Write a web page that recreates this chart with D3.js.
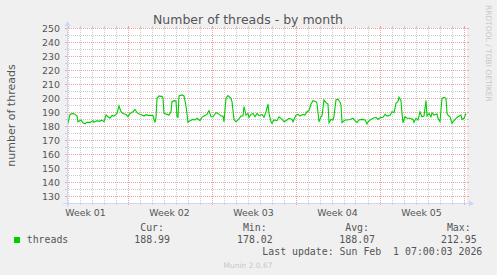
<!DOCTYPE html>
<html>
<head>
<meta charset="utf-8">
<script src="https://cdn.jsdelivr.net/npm/d3@7/dist/d3.min.js"></script>
<style>
	body { margin: 0; background: #f0f0f0; }
	svg text { font-family: "DejaVu Sans", sans-serif; fill: #555; }
	svg text.mono { font-family: "DejaVu Sans Mono", monospace; white-space: pre; }
</style>
</head>
<body>
<div id="chart"></div>
<script>
// hours since the start of the graph (Dec 29 2025 23:00), one reading per entry
var hours = [
	0, 2, 6, 12, 16, 20, 22, 28, 32, 36,
	40, 46, 52, 54, 60, 64, 70, 74, 78, 82,
	86, 90, 94, 100, 104, 108, 112, 118, 122, 126,
	132, 136, 140, 144, 150, 154, 158, 162, 168, 172,
	176, 178, 180, 184, 190, 192, 194, 200, 204, 208,
	210, 214, 218, 220, 222, 224, 230, 234, 238, 242,
	246, 252, 256, 260, 266, 270, 274, 280, 284, 288,
	292, 298, 302, 308, 312, 314, 318, 322, 328, 330,
	334, 338, 342, 348, 352, 354, 358, 362, 364, 368,
	372, 376, 380, 384, 390, 394, 398, 402, 404, 408,
	410, 414, 420, 424, 430, 434, 440, 444, 450, 452,
	458, 462, 466, 472, 476, 480, 484, 488, 492, 498,
	500, 504, 508, 510, 514, 518, 522, 524, 528, 532,
	534, 538, 542, 546, 548, 550, 556, 560, 566, 572,
	576, 580, 584, 590, 596, 600, 602, 608, 612, 618,
	622, 626, 632, 636, 640, 646, 650, 654, 658, 662,
	664, 668, 670, 672, 676, 680, 686, 692, 694, 698,
	702, 706, 710, 714, 718, 720, 724, 728, 730, 734,
	740, 742, 746, 750, 754, 758, 760, 762, 766, 770,
	772, 778, 782, 788, 790, 794, 798
];
var threads = [
	181.9, 182.3, 188.3, 189, 188.3, 187.1, 183, 184.3, 182.3, 181.6,
	182.6, 182.6, 183.8, 182.6, 183.8, 183.3, 184.2, 183, 187.8, 186.6,
	185.5, 187.6, 187.1, 189, 194.3, 190.2, 189, 188.3, 186.6, 189,
	190.2, 191.9, 189.5, 188.6, 187.8, 187.1, 188.1, 187.6, 187.6, 187.4,
	182.5, 186.2, 199.8, 201.5, 201, 199.8, 189, 188.3, 187.8, 190.2,
	197.4, 198.1, 197.9, 186.6, 186.2, 201.5, 202.2, 201.5, 194.3, 182.6,
	183.8, 184.7, 184.3, 185.5, 183.8, 186.2, 187.1, 188.3, 191, 186.6,
	186.6, 189.5, 189, 187.1, 187.1, 183, 199.8, 201.7, 199.8, 197.4,
	184.7, 183, 184.3, 187.1, 187.1, 193.8, 187.8, 189, 186.2, 188.3,
	189, 186.6, 189, 187.4, 188.3, 186.2, 190.2, 195.7, 189, 183,
	181.9, 184.3, 183.8, 186.6, 184.7, 183, 184.3, 185.5, 184.7, 183,
	187.8, 188.3, 187.1, 188.3, 187.8, 190.2, 191, 195.7, 198.1, 197.4,
	196.2, 183, 186.6, 187.1, 198.6, 196.7, 195.7, 182.3, 184.7, 184.3,
	187.1, 198.6, 199.1, 197, 195, 182.5, 184.3, 184.3, 184.7, 185.5,
	183.8, 182.6, 184.3, 184.7, 184.3, 181.4, 183, 184.7, 185.5, 186.2,
	184.7, 185.9, 186.2, 188.3, 187.1, 187.6, 190.2, 189.5, 196.2, 197.6,
	200.5, 198.1, 189, 182.3, 186.6, 185.5, 185.5, 184.7, 182.6, 185.5,
	184.3, 190.2, 186.6, 187.1, 198.1, 187.1, 189, 186.6, 189.5, 187.8,
	188.6, 185.5, 183, 199.8, 200.5, 199.8, 189, 187.8, 186.6, 181.9,
	183, 185.5, 186.6, 187.8, 184.7, 185.5, 189
];
var yTicks = [130, 140, 150, 160, 170, 180, 190, 200, 210, 220, 230, 240, 250];
var statLabels = ['Cur:', 'Min:', 'Avg:', 'Max:'];
var statValues = ['188.99', '178.02', '188.07', '212.95'];
var seriesName = 'threads';
var lastUpdate = 'Last update: Sun Feb  1 07:00:03 2026';

var START = Date.UTC(2025, 11, 29, 23, 0, 0);
var END = Date.UTC(2026, 1, 1, 7, 0, 0);
var HOUR = 3600 * 1000;
var GREEN = '#00cc00';

(function () {
	drawGraph('chart');
})();

function drawGraph(elementId) {
	var width = 497,
		height = 275,
		margin = { left: 67, top: 28 },
		plotWidth = 400,
		plotHeight = 175,
		svg = d3.select('#' + elementId).append('svg')
			.attr('width', width)
			.attr('height', height),

		x = d3.scaleUtc()
			.domain([new Date(START), new Date(END)])
			.range([margin.left, margin.left + plotWidth]),

		y = d3.scaleLinear()
			.domain([125, 250])
			.range([margin.top + plotHeight, margin.top]),

		data = hours.map(function (h, i) {
			return { date: new Date(START + h * HOUR), value: threads[i] };
		}),

		x0 = margin.left,
		x1 = margin.left + plotWidth,
		y0 = margin.top + plotHeight,
		y1 = margin.top;

	function px(v) { return Math.round(v) + 0.5; }

	svg.append('rect')
		.attr('width', width)
		.attr('height', height)
		.attr('fill', '#f0f0f0');

	svg.append('rect')
		.attr('x', x0)
		.attr('y', y1)
		.attr('width', plotWidth)
		.attr('height', plotHeight)
		.attr('fill', '#ffffff');

	var minorColor = '#cdcdcd',
		majorColor = '#eba3a3';

	// horizontal grid: minor every 5, major every 10
	var grid = svg.append('g').attr('class', 'grid');
	d3.range(130, 251, 5).forEach(function (v) {
		var yy = px(y(v)),
			col = v % 10 === 0 ? majorColor : minorColor;
		grid.append('line')
			.attr('x1', x0 - 2).attr('x2', x1 + 2)
			.attr('y1', yy).attr('y2', yy)
			.attr('stroke', col)
			.attr('stroke-dasharray', '1,1');
		grid.append('line')
			.attr('x1', x0 - 2).attr('x2', x0)
			.attr('y1', yy).attr('y2', yy)
			.attr('stroke', col);
		grid.append('line')
			.attr('x1', x1).attr('x2', x1 + 2)
			.attr('y1', yy).attr('y2', yy)
			.attr('stroke', col);
	});

	// vertical grid: days, with Sundays as week boundaries
	d3.utcDay.range(new Date(START), new Date(END)).forEach(function (d) {
		var xx = px(x(d)),
			col = d.getUTCDay() === 0 ? majorColor : minorColor;
		grid.append('line')
			.attr('x1', xx).attr('x2', xx)
			.attr('y1', y1 - 2).attr('y2', y0 + 2)
			.attr('stroke', col)
			.attr('stroke-dasharray', '1,1');
		grid.append('line')
			.attr('x1', xx).attr('x2', xx)
			.attr('y1', y0).attr('y2', y0 + 2)
			.attr('stroke', col);
		grid.append('line')
			.attr('x1', xx).attr('x2', xx)
			.attr('y1', y1 - 2).attr('y2', y1)
			.attr('stroke', col);
	});

	// y labels
	svg.append('g')
		.selectAll('text')
		.data(yTicks)
		.enter().append('text')
		.attr('x', 60)
		.attr('y', function (d) { return y(d) + 3.5; })
		.attr('text-anchor', 'end')
		.style('font-size', '9.4px')
		.text(function (d) { return d; });

	// week labels, centred half a week after each Sunday
	var weekFmt = d3.utcFormat('Week %V');
	d3.utcSunday.range(d3.utcSunday.floor(new Date(START)), new Date(END)).forEach(function (s) {
		var mid = new Date(+s + 3.5 * 24 * HOUR);
		if (+mid > END - 3.5 * 24 * HOUR) return;
		svg.append('text')
			.attr('x', x(mid))
			.attr('y', 216)
			.attr('text-anchor', 'middle')
			.style('font-size', '9.4px')
			.text(weekFmt(mid));
	});

	// the series
	var line = d3.line()
		.x(function (d) { return x(d.date); })
		.y(function (d) { return y(d.value); });

	svg.append('path')
		.datum(data)
		.attr('fill', 'none')
		.attr('stroke', GREEN)
		.attr('stroke-width', 1.1)
		.attr('d', line);

	// axes and arrows
	var axisColor = '#cfd6f8';
	svg.append('line')
		.attr('x1', x0 - 4).attr('x2', x1 + 4)
		.attr('y1', px(y0)).attr('y2', px(y0))
		.attr('stroke', axisColor);
	svg.append('line')
		.attr('x1', px(x0)).attr('x2', px(x0))
		.attr('y1', y0 + 4).attr('y2', y1 - 4)
		.attr('stroke', axisColor);
	svg.append('path')
		.attr('d', 'M' + (x1 + 2) + ',' + (y0 - 3 + 0.5) + 'L' + (x1 + 2) + ',' + (y0 + 3 + 0.5) + 'L' + (x1 + 7) + ',' + (y0 + 0.5) + 'Z')
		.attr('fill', axisColor);
	svg.append('path')
		.attr('d', 'M' + (x0 - 3 + 0.5) + ',' + (y1 - 2) + 'L' + (x0 + 3 + 0.5) + ',' + (y1 - 2) + 'L' + (x0 + 0.5) + ',' + (y1 - 7) + 'Z')
		.attr('fill', axisColor);

	// titles
	svg.append('text')
		.attr('x', 248)
		.attr('y', 24)
		.attr('text-anchor', 'middle')
		.style('font-size', '12.5px')
		.text('Number of threads - by month');

	svg.append('text')
		.attr('transform', 'translate(15,' + (y1 + plotHeight / 2) + ') rotate(-90)')
		.attr('text-anchor', 'middle')
		.style('font-size', '11px')
		.text('number of threads');

	svg.append('text')
		.attr('transform', 'translate(485.5,5) rotate(90)')
		.attr('text-anchor', 'start')
		.style('font-size', '7.5px')
		.style('fill', '#c8c8c8')
		.text('RRDTOOL / TOBI OETIKER');

	// legend
	var colEnds = [170, 272.7, 375, 476.7];
	statLabels.forEach(function (lab, i) {
		svg.append('text')
			.attr('class', 'mono')
			.attr('x', colEnds[i] - 6)
			.attr('y', 231)
			.attr('text-anchor', 'end')
			.style('font-size', '9.9px')
			.text(lab);
		svg.append('text')
			.attr('class', 'mono')
			.attr('x', colEnds[i])
			.attr('y', 242.5)
			.attr('text-anchor', 'end')
			.style('font-size', '9.9px')
			.text(statValues[i]);
	});

	svg.append('rect')
		.attr('x', 14)
		.attr('y', 237)
		.attr('width', 6)
		.attr('height', 6)
		.attr('fill', GREEN);

	svg.append('text')
		.attr('class', 'mono')
		.attr('x', 26.7)
		.attr('y', 242.5)
		.style('font-size', '9.9px')
		.text(seriesName);

	svg.append('text')
		.attr('class', 'mono')
		.attr('x', 482.3)
		.attr('y', 255)
		.attr('text-anchor', 'end')
		.style('font-size', '9.9px')
		.text(lastUpdate);

	svg.append('text')
		.attr('x', 248)
		.attr('y', 267.5)
		.attr('text-anchor', 'middle')
		.style('font-size', '7.5px')
		.style('fill', '#c8c8c8')
		.text('Munin 2.0.67');
}
</script>
</body>
</html>
